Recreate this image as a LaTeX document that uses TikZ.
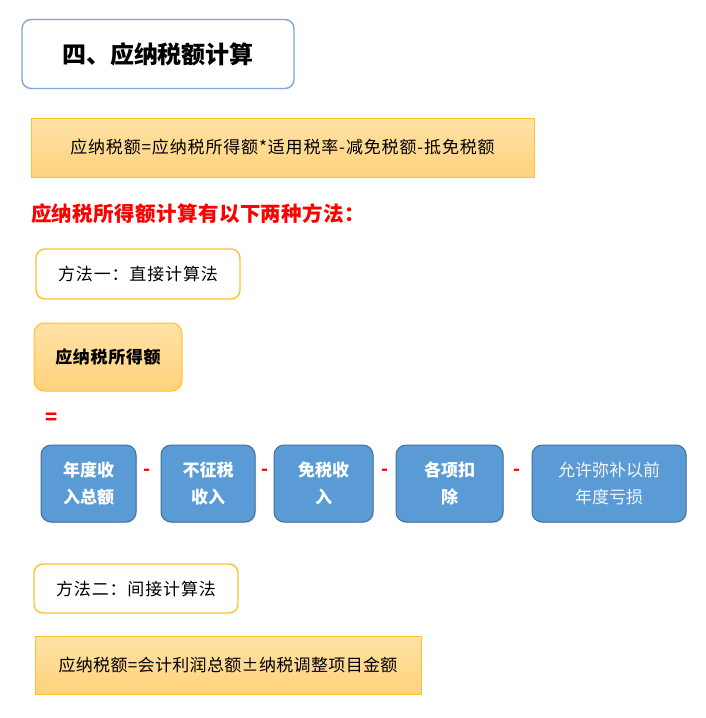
\documentclass[tikz,border=0pt]{standalone}
\usepackage{fontspec}
\setmainfont{Noto Sans CJK SC}
\usetikzlibrary{shadows}
\definecolor{titleblue}{HTML}{7BA7D9}
\definecolor{orborder}{HTML}{FFC22E}
\definecolor{ortop}{HTML}{FFE2A6}
\definecolor{orbot}{HTML}{FFD27C}
\definecolor{boxblue}{HTML}{5B9BD5}
\definecolor{boxedge}{HTML}{41719C}
\newcommand{\spaced}[1]{\addfontfeature{LetterSpace=#1}}
\tikzset{
  base/.style={inner sep=0pt, outer sep=0pt, align=center},
  titlebox/.style={base, draw=titleblue, line width=1.4pt, fill=white, rounded corners=9pt},
  orangebar/.style={base, draw=orborder, line width=1pt, top color=ortop, bottom color=orbot},
  methodbox/.style={base, draw=orborder, line width=1.4pt, fill=white, rounded corners=9pt},
  orangerbox/.style={base, draw=orborder, line width=1pt, top color=ortop, bottom color=orbot, rounded corners=10pt},
  bluebox/.style={base, draw=boxedge, line width=1pt, fill=boxblue, rounded corners=10pt, text=white,
     font=\fontsize{17}{27}\selectfont\bfseries, drop shadow={shadow xshift=1pt, shadow yshift=-1pt, opacity=0.25}},
  minus/.style={base, text=red, font=\fontsize{18}{18}\selectfont\bfseries},
  txt/.style={base, font=\fontsize{17}{20}\selectfont}
}
\begin{document}
\begin{tikzpicture}[x=1pt, y=-1pt]
\useasboundingbox[fill=white] (0,0) rectangle (706,718);
% title
\node[titlebox, minimum width=272pt, minimum height=69pt, font=\fontsize{24}{26}\selectfont\bfseries] (title) at (158,54) {四、应纳税额计算};
% formula 1
\node[orangebar, minimum width=503pt, minimum height=59pt, font=\fontsize{17}{20}\selectfont\spaced{5}] (f1) at (282.5,147.5) {应纳税额=应纳税所得额*适用税率-减免税额-抵免税额};
% red line
\node[base, anchor=west, text=red, font=\fontsize{20.5}{22}\selectfont\bfseries\spaced{2}] (intro) at (31,214) {应纳税所得额计算有以下两种方法：};
% method 1
\node[methodbox, minimum width=204pt, minimum height=50pt, font=\fontsize{17}{20}\selectfont\spaced{5}] (m1) at (138,274) {方法一：直接计算法};
\node[orangerbox, minimum width=148pt, minimum height=68pt, font=\fontsize{17}{20}\selectfont\bfseries\spaced{4}] (taxable) at (108,357) {应纳税所得额};
\node[base, text=red, font=\fontsize{20}{20}\selectfont\bfseries] (eq) at (52,419) {=};
% blue boxes
\node[bluebox, minimum width=95pt, minimum height=77pt] (b1) at (88.5,483.5) {年度收\\入总额};
\node[bluebox, minimum width=94pt, minimum height=77pt] (b2) at (208,483.5) {不征税\\收入};
\node[bluebox, minimum width=99pt, minimum height=77pt] (b3) at (323.5,483.5) {免税收\\入};
\node[bluebox, minimum width=107pt, minimum height=77pt] (b4) at (449.5,483.5) {各项扣\\除};
\node[bluebox, minimum width=154pt, minimum height=77pt, font=\fontsize{17}{27}\selectfont, text=white!92!boxblue] (b5) at (609,483.5) {允许弥补以前\\年度亏损};
\node[minus] (s1) at (147,472) {-};
\node[minus] (s2) at (265,472) {-};
\node[minus] (s3) at (385,472) {-};
\node[minus] (s4) at (517,472) {-};
% method 2
\node[methodbox, minimum width=204pt, minimum height=49pt, font=\fontsize{17}{20}\selectfont\spaced{5}] (m2) at (136,588.5) {方法二：间接计算法};
\node[orangebar, minimum width=386pt, minimum height=58pt, font=\fontsize{17}{20}\selectfont\spaced{2}] (f2) at (228,665) {应纳税额=会计利润总额±纳税调整项目金额};
\end{tikzpicture}
\end{document}
